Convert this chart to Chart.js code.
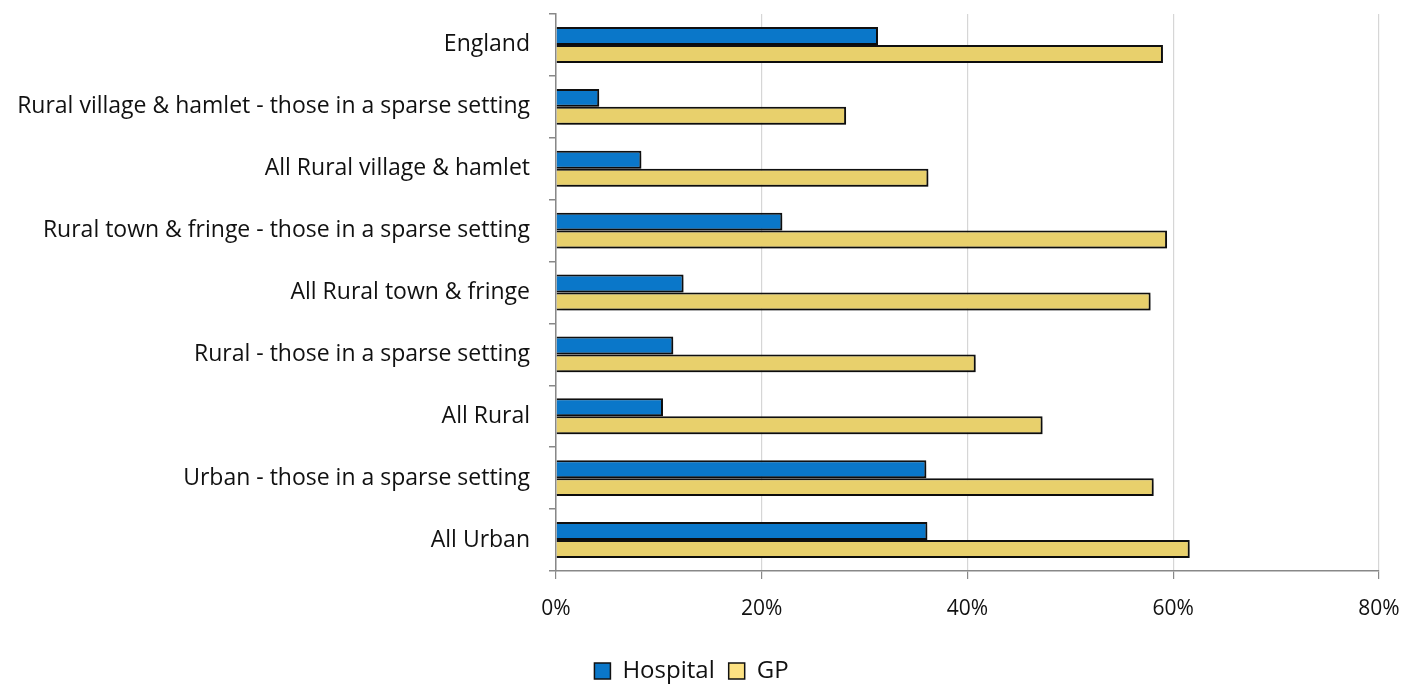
<!DOCTYPE html>
<html>
<head>
<meta charset="utf-8">
<script src="https://cdn.jsdelivr.net/npm/chart.js@4"></script>
<style>
  html, body { margin: 0; padding: 0; background: #fff; }
  #wrap { width: 1405px; height: 684px; position: relative; }
</style>
</head>
<body>
<div id="wrap"><canvas id="chart"></canvas></div>
<script>
// Chart data
const categories = [
  "England",
  "Rural village & hamlet - those in a sparse setting",
  "All Rural village & hamlet",
  "Rural town & fringe - those in a sparse setting",
  "All Rural town & fringe",
  "Rural - those in a sparse setting",
  "All Rural",
  "Urban - those in a sparse setting",
  "All Urban"
];
const hospitalValues = [31.3, 4.2, 8.3, 22.0, 12.4, 11.4, 10.4, 36.0, 36.1];
const gpValues = [59.0, 28.2, 36.2, 59.4, 57.8, 40.8, 47.3, 58.1, 61.6];
const xTicks = [0, 20, 40, 60, 80];

const FONT = "'Open Sans', Lato, sans-serif";

// soft drop shadow under the bars
const barShadow = {
  id: "barShadow",
  beforeDatasetsDraw(chart) {
    const c = chart.ctx;
    c.save();
    c.shadowColor = "rgba(0,0,0,0.35)";
    c.shadowBlur = 5;
    c.shadowOffsetX = 2;
    c.shadowOffsetY = 3;
  },
  afterDatasetsDraw(chart) {
    chart.ctx.restore();
  }
};

const ctx = document.getElementById("chart").getContext("2d");
new Chart(ctx, {
  type: "bar",
  data: {
    labels: categories,
    datasets: [
      {
        label: "Hospital",
        data: hospitalValues,
        backgroundColor: "#0a77c9",
        borderColor: "#111",
        borderWidth: 2,
        borderSkipped: "start",
        categoryPercentage: 0.58,
        barPercentage: 1.0
      },
      {
        label: "GP",
        data: gpValues,
        backgroundColor: "#e8d06c",
        borderColor: "#111",
        borderWidth: 2,
        borderSkipped: "start",
        categoryPercentage: 0.58,
        barPercentage: 1.0
      }
    ]
  },
  options: {
    indexAxis: "y",
    responsive: true,
    maintainAspectRatio: false,
    animation: false,
    layout: { padding: { top: 14, right: 26, left: 4, bottom: -9 } },
    scales: {
      x: {
        min: 0,
        max: 80,
        afterBuildTicks: function (scale) {
          scale.ticks = xTicks.map(v => ({ value: v }));
        },
        afterFit: function (scale) {
          scale.height = 74;
          scale.paddingLeft = 0;
          scale.paddingRight = 0;
        },
        ticks: {
          callback: v => v + "%",
          color: "#111",
          font: { family: FONT, size: 21 },
          padding: 17
        },
        grid: {
          color: "#d6d6d6",
          lineWidth: 1.2,
          tickLength: 8,
          tickColor: "#888"
        },
        border: { color: "#888", width: 1.5 }
      },
      y: {
        afterFit: function (scale) {
          scale.width = 552;
          scale.paddingTop = 0;
          scale.paddingBottom = 0;
        },
        ticks: {
          color: "#111",
          font: { family: FONT, size: 23 },
          padding: 19
        },
        grid: {
          offset: true,
          drawOnChartArea: false,
          tickLength: 7,
          tickColor: "#888",
          lineWidth: 1.5
        },
        border: { color: "#888", width: 1.5 }
      }
    },
    plugins: {
      legend: {
        position: "bottom",
        labels: {
          color: "#111",
          font: { family: FONT, size: 24 },
          boxWidth: 16,
          boxHeight: 16,
          padding: 14,
          generateLabels: function (chart) {
            const fills = ["#0a77c9", "#fde283"];
            return chart.data.datasets.map((ds, i) => ({
              text: ds.label,
              fillStyle: fills[i],
              strokeStyle: "#111",
              lineWidth: 1.5,
              datasetIndex: i,
              fontColor: "#111"
            }));
          }
        }
      },
      tooltip: { enabled: false }
    }
  },
  plugins: [barShadow]
});
</script>
</body>
</html>
